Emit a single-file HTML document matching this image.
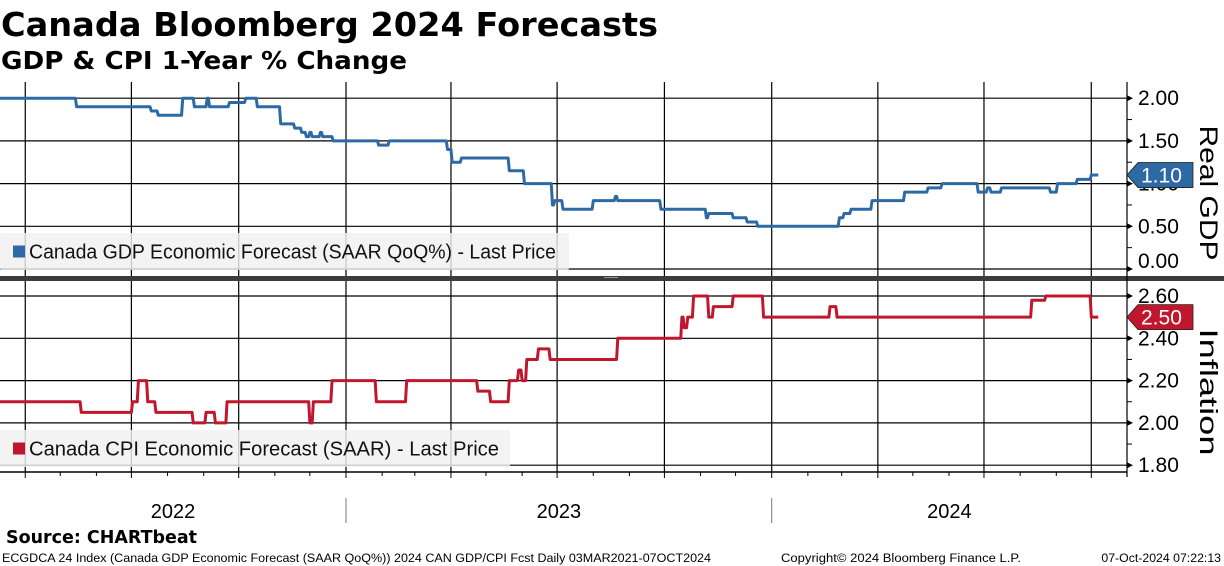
<!DOCTYPE html>
<html><head><meta charset="utf-8">
<style>
html,body{margin:0;padding:0;background:#fff;width:1224px;height:566px;overflow:hidden;}
svg{display:block;}
text{font-family:"Liberation Sans",sans-serif;}
</style></head>
<body>
<svg id="chart" width="1224" height="566" viewBox="0 0 1224 566" xmlns="http://www.w3.org/2000/svg">
<text x="1" y="36" font-weight="bold" font-size="33" textLength="657" lengthAdjust="spacingAndGlyphs" style="font-family:'DejaVu Sans',sans-serif">Canada Bloomberg 2024 Forecasts</text>
<text x="1" y="69" font-weight="bold" font-size="25" textLength="406" lengthAdjust="spacingAndGlyphs" style="font-family:'DejaVu Sans',sans-serif">GDP &amp; CPI 1-Year % Change</text>
<g id="grid"></g>
<rect x="0" y="276" width="1224" height="5" fill="#3c3c3c"/>
<rect x="604" y="277" width="14" height="1" fill="#999"/>
<g id="series"></g>
<g id="legends"></g>
<g id="axes"></g>
<text x="6" y="543" font-weight="bold" font-size="18" textLength="191" lengthAdjust="spacingAndGlyphs" style="font-family:'DejaVu Sans',sans-serif">Source: CHARTbeat</text>
<text x="2" y="562" font-size="12.3" textLength="709" lengthAdjust="spacingAndGlyphs">ECGDCA 24 Index (Canada GDP Economic Forecast (SAAR QoQ%)) 2024 CAN GDP/CPI Fcst  Daily 03MAR2021-07OCT2024</text>
<text x="781" y="562" font-size="12.3" textLength="240" lengthAdjust="spacingAndGlyphs">Copyright© 2024 Bloomberg Finance L.P.</text>
<text x="1221" y="562" font-size="12.3" text-anchor="end">07-Oct-2024 07:22:13</text>
</svg>
<script>
const gdpDates = ["2022-03-10","2022-05-14","2022-07-17","2022-07-23","2022-08-13","2022-08-23","2022-09-03","2022-09-05","2022-09-22","2022-10-06","2022-10-16","2022-11-05","2022-11-17","2022-11-23","2022-11-27","2022-11-30","2022-12-02","2022-12-09","2022-12-11","2022-12-20","2023-01-28","2023-02-06","2023-03-28","2023-04-01","2023-04-09","2023-05-20","2023-06-02","2023-06-26","2023-06-28","2023-07-05","2023-07-31","2023-08-19","2023-08-21","2023-09-27","2023-11-05","2023-11-07","2023-11-28","2023-12-10","2023-12-19","2024-02-27","2024-03-02","2024-03-08","2024-03-26","2024-04-23","2024-05-13","2024-05-25","2024-06-25","2024-07-03","2024-07-06","2024-07-15","2024-08-26","2024-09-01","2024-09-18","2024-09-30"];
const gdpValues = [2.0,1.9,1.85,1.8,2.0,1.9,2.0,1.9,1.95,2.0,1.9,1.7,1.65,1.6,1.55,1.6,1.55,1.6,1.55,1.5,1.45,1.5,1.4,1.25,1.3,1.15,1.0,0.75,0.8,0.7,0.8,0.85,0.8,0.7,0.6,0.65,0.6,0.55,0.5,0.6,0.65,0.7,0.8,0.9,0.95,1.0,0.9,0.95,0.9,0.95,0.9,1.0,1.05,1.1];
const cpiDates = ["2022-03-10","2022-05-18","2022-07-01","2022-07-06","2022-07-14","2022-07-21","2022-08-22","2022-09-02","2022-09-10","2022-09-20","2022-11-30","2022-12-03","2022-12-19","2023-01-26","2023-02-21","2023-04-23","2023-05-04","2023-05-20","2023-05-28","2023-05-31","2023-06-04","2023-06-14","2023-06-24","2023-08-21","2023-10-15","2023-10-17","2023-10-20","2023-10-25","2023-11-07","2023-11-11","2023-11-28","2023-12-24","2024-02-19","2024-02-25","2024-08-10","2024-08-22","2024-09-30"];
const cpiValues = [2.1,2.05,2.1,2.2,2.1,2.05,2.0,2.05,2.0,2.1,2.0,2.1,2.2,2.1,2.2,2.15,2.1,2.2,2.25,2.2,2.3,2.35,2.3,2.4,2.5,2.45,2.5,2.6,2.5,2.55,2.6,2.5,2.55,2.5,2.58,2.6,2.5];
const endDate = "2024-10-07";
const gdpTicks = [2.0,1.5,1.0,0.5,0.0];
const gdpTickLabels = ["2.00","1.50","1.00","0.50","0.00"];
const cpiTicks = [2.6,2.4,2.2,2.0,1.8];
const cpiTickLabels = ["2.60","2.40","2.20","2.00","1.80"];
const yearLabels = ["2022","2023","2024"];
const gdpLast = "1.10", cpiLast = "2.50";

const NS="http://www.w3.org/2000/svg";
function mk(parent,tag,attrs,txt){const e=document.createElementNS(NS,tag);for(const k in attrs)e.setAttribute(k,attrs[k]);if(txt!==undefined)e.textContent=txt;parent.appendChild(e);return e;}
const T0=Date.UTC(2023,0,1);
function xOf(d){const t=(typeof d==="string")?Date.parse(d+"T00:00:00Z"):d;return 346+(t-T0)/86400000*426/365.25;}
function yG(v){return 269-(v-0)*85.4;}
function yC(v){return 296+(2.6-v)*211.5;}
const AX=1127;
const grid=document.getElementById('grid'),series=document.getElementById('series'),legends=document.getElementById('legends'),axes=document.getElementById('axes');

gdpTicks.forEach(v=>{const l=mk(grid,'line',{x1:0,x2:AX,y1:yG(v),y2:yG(v),stroke:'#000','stroke-width':1.2});

});
cpiTicks.forEach(v=>{const l=mk(grid,'line',{x1:0,x2:AX,y1:yC(v),y2:yC(v),stroke:'#000','stroke-width':1.2});

});
for(let y=2022;y<=2024;y++){for(let m=0;m<12;m++){const x=xOf(Date.UTC(y,m,1));if(x<0||x>AX)continue;
 if(m%3===0){const l=mk(grid,'line',{x1:x,x2:x,y1:82,y2:472,stroke:'#000','stroke-width':1.2});
 
 }
 const t=mk(axes,'line',{x1:x,x2:x,y1:472,y2:(m%3===0?478:476),stroke:'#000','stroke-width':1});
 
 }}
let a=mk(axes,'line',{x1:0,x2:AX,y1:472,y2:472,stroke:'#000','stroke-width':1.5});


a=mk(axes,'line',{x1:AX,x2:AX,y1:82,y2:477,stroke:'#000','stroke-width':1.2});


[2023,2024].forEach(y=>{const x=xOf(Date.UTC(y,0,1));const l=mk(axes,'line',{x1:x,x2:x,y1:498,y2:523,stroke:'#777','stroke-width':1});

});
yearLabels.forEach((lab,i)=>{const y=+lab;const x0=Math.max(0,xOf(Date.UTC(y,0,1))),x1=Math.min(AX,xOf(Date.UTC(y+1,0,1)));
 const xc=(i===0)?(xOf(Date.UTC(y+1,0,1))/2):(x0+x1)/2;
 const t=mk(axes,'text',{x:xc,y:518,'font-size':20,'text-anchor':'middle'},lab);
 
 });
function yAxis(ticks,labels,yf,name){ticks.forEach((v,i)=>{const y=yf(v);
 const p=mk(axes,'path',{d:`M${AX} ${y-3}L${AX+6} ${y}L${AX} ${y+3}Z`,fill:'#000'});
 
 
 let ly=y+7; if(name==='gdp' && i===ticks.length-1) ly=y-1;
 const t=mk(axes,'text',{x:AX+11,y:ly,'font-size':21},labels[i]);
 
 
 if(i<ticks.length-1){const ym=(y+yf(ticks[i+1]))/2;const m=mk(axes,'line',{x1:AX,x2:AX+5,y1:ym,y2:ym,stroke:'#000','stroke-width':1});
 
 }});}
yAxis(gdpTicks,gdpTickLabels,yG,'gdp');
yAxis(cpiTicks,cpiTickLabels,yC,'cpi');
let at=mk(axes,'text',{x:0,y:0,'font-size':25,textLength:135,lengthAdjust:'spacingAndGlyphs',transform:'translate(1200,193) rotate(90)','text-anchor':'middle'},'Real GDP');


at=mk(axes,'text',{x:0,y:0,'font-size':25,textLength:127,lengthAdjust:'spacingAndGlyphs',transform:'translate(1200,392) rotate(90)','text-anchor':'middle'},'Inflation');



function stepPath(dates,vals,yf){let d='';for(let i=0;i<dates.length;i++){const x=xOf(dates[i]);const y=yf(vals[i]);
 if(i===0)d+=`M${x} ${y}`;else d+=`L${x} ${yf(vals[i-1])}L${x+1.2} ${y}`;}
 d+=`L${xOf(endDate)} ${yf(vals[vals.length-1])}`;return d;}
let s=mk(series,'path',{d:stepPath(gdpDates,gdpValues,yG),fill:'none',stroke:'#2d6aa5','stroke-width':3,'stroke-linejoin':'round'});


s=mk(series,'path',{d:stepPath(cpiDates,cpiValues,yC),fill:'none',stroke:'#c0172f','stroke-width':3,'stroke-linejoin':'round'});



function badge(v,label,yf,col,name){const y=yf(v);
 const p=mk(axes,'path',{d:`M${AX} ${y}L${AX+11} ${y-12.5}L${AX+66} ${y-12.5}L${AX+66} ${y+12.5}L${AX+11} ${y+12.5}Z`,fill:col,stroke:'#222','stroke-width':0.8});
 
 
 const t=mk(axes,'text',{x:AX+14,y:y+7.5,'font-size':21,fill:'#fff'},label);
 
 }
badge(gdpValues[gdpValues.length-1],gdpLast,yG,'#2d6aa5','gdp');
badge(cpiValues[cpiValues.length-1],cpiLast,yC,'#c0172f','cpi');

function legend(x,y,w,h,col,label,name,tl){const r=mk(legends,'rect',{x:x,y:y,width:w,height:h,fill:'rgba(240,240,240,0.82)',rx:2});
 
 
 const sq=mk(legends,'rect',{x:13,y:y+h/2-6,width:12,height:12,fill:col});
 
 
 const t=mk(legends,'text',{x:29,y:y+h/2+7,'font-size':20,fill:'#111',textLength:tl,lengthAdjust:'spacingAndGlyphs'},label);
 
 }
legend(0,233,569,37,'#2d6aa5','Canada GDP Economic Forecast (SAAR QoQ%) - Last Price','gdp',527);
legend(0,430,510,37,'#c0172f','Canada CPI Economic Forecast (SAAR) - Last Price','cpi',470);
</script>
</body></html>
